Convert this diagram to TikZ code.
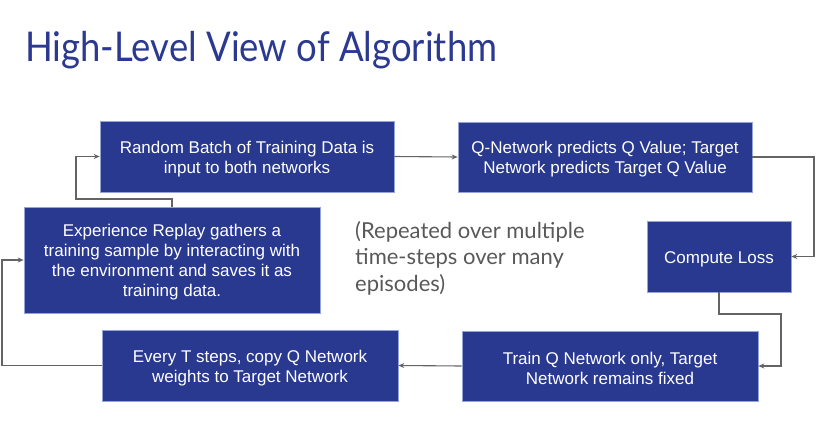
\documentclass[tikz,border=0pt]{standalone}
\usepackage{fontspec}
\setmainfont{Liberation Sans}
\newfontfamily\headfont{Lato}
\newfontfamily\titlefont[FakeStretch=0.89]{Lato}
\usetikzlibrary{arrows.meta}
\definecolor{boxblue}{RGB}{41,57,143}
\definecolor{boxedge}{RGB}{150,165,215}
\definecolor{titleblue}{RGB}{43,57,144}
\definecolor{notegray}{RGB}{89,89,89}
\definecolor{linegray}{RGB}{100,100,100}
% taller first line keeps the text block optically centred in its box
\newcommand\topgap{\rule{0pt}{17.5pt}}
\tikzset{
  stepbox/.style={draw=boxedge, line width=0.6pt, fill=boxblue, text=white,
    align=center, inner sep=0pt,
    font=\fontsize{17}{20}\selectfont},
  conn/.style={draw=linegray, line width=1.1pt,
    -{Stealth[length=6pt,width=5pt]}},
}
\begin{document}
\begin{tikzpicture}[x=1pt,y=-1pt]
\useasboundingbox (0,0) rectangle (823,432);

% heading
\node[anchor=base west, inner sep=0pt, text=titleblue,
  font=\titlefont\fontsize{41}{48}\selectfont] (title) at (25,61)
  {High-Level View of Algorithm};

% process boxes
\node[stepbox, minimum width=294, minimum height=71] (batch) at (247,156.5)
  {\topgap Random Batch of Training Data is\\input to both networks};
\node[stepbox, minimum width=294, minimum height=70] (predict) at (605,157)
  {\topgap Q-Network predicts Q Value; Target\\Network predicts Target Q Value};
\node[stepbox, minimum width=144, minimum height=71] (loss) at (719,256.5)
  {\topgap Compute Loss};
\node[stepbox, minimum width=296, minimum height=106] (replay) at (172,260)
  {\topgap Experience Replay gathers a\\training sample by interacting with\\the environment and saves it as\\training data.};
\node[stepbox, minimum width=296, minimum height=71] (copy) at (250,365.5)
  {\topgap Every T steps, copy Q Network\\weights to Target Network};
\node[stepbox, minimum width=296, minimum height=70] (train) at (610,366)
  {\topgap Train Q Network only, Target\\Network remains fixed};

% side note
\node[anchor=north west, inner sep=0pt, align=left, text=notegray,
  font=\headfont\fontsize{22}{26.5}\selectfont] (note) at (355,221)
  {(Repeated over multiple\\time-steps over many\\episodes)};

% bend points of the connectors
\coordinate (upturn) at (76,199);
\coordinate (rightturn) at (814,157);
\coordinate (downturn) at (781,314);
\coordinate (leftturn) at (2,365.5);

% connectors
\draw[conn] (replay.north) |- (upturn) |- (batch.west);
\draw[conn] (batch.east) -- (predict.west);
\draw[conn] (predict.east) -- (rightturn) |- (loss.east);
\draw[conn] (loss.south) |- (downturn) |- (train.east);
\draw[conn] (train.west) -- (copy.east);
\draw[conn] (copy.west) -- (leftturn) |- (replay.west);
\end{tikzpicture}
\end{document}
